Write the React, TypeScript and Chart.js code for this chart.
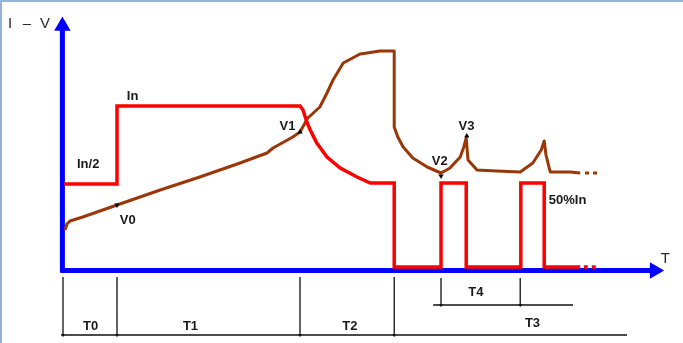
import React, { useEffect, useRef } from 'react';
import { Chart, registerables } from 'chart.js';

Chart.register(...registerables);

// Current (red) trace: time units vs current units
const CUR_T = [0.2, 9, 9, 39.5, 40, 40.7, 41.2, 42.3, 44, 46.2, 49, 51.2, 55.2, 55.2, 63, 63, 67.2, 67.2, 76.3, 76.3, 80.2, 80.2, 86.2];
const CUR_I = [34.4, 34.4, 65.6, 65.6, 64, 58.8, 56, 50.8, 45.2, 40.8, 37.2, 34.8, 34.8, 1.2, 1.2, 34.8, 34.8, 1.2, 1.2, 34.8, 34.8, 1.2, 1.2];
const CUR_TAIL_T = [86.8, 89.4];
const CUR_TAIL_I = [1.2, 1.2];

// Voltage (brown) trace
const VOLT_T = [0.33, 0.67, 1.17, 3.3, 9, 16.2, 22.8, 29.5, 34, 35, 38.3, 39.5, 40.8, 42.8, 44, 45, 46.7, 49.5, 50.7, 52.8, 55.2, 55.2, 55.8, 56.7, 58.3, 60.7, 63, 64.5, 66.2, 66.8, 67.2, 67.5, 69, 72.3, 76.2, 78.3, 79.7, 80.2, 80.5, 81.2, 84.5, 86.2];
const VOLT_V = [16, 18.4, 19.6, 21.2, 26, 32, 37.2, 42.8, 46.8, 48.8, 53.2, 55.2, 60.8, 65.2, 70.8, 76, 82.8, 86.4, 86.8, 87.6, 87.6, 57.2, 53.2, 49.2, 44.8, 41.2, 38.8, 40.8, 45.2, 49.2, 52.8, 44, 40, 39.6, 39.2, 42.8, 48, 51.6, 46, 39.2, 39.2, 38.8];
const VOLT_TAIL_T = [87, 89.4];
const VOLT_TAIL_V = [38.8, 38.8];

// Marked voltage points V0..V3
const MARK_T = [9, 39.5, 63, 67.3];
const MARK_V = [26, 55.2, 37.6, 53.6];
const MARK_ROT = [60, 0, 180, 0];

// Phase boundaries (timeline under the axis)
const PHASE_T = [0, 9, 39.5, 55.2];
const PHASE_END_T = 94;
const PULSE_T = [63, 76.2];
const PULSE_LINE_T = [61.7, 85];

// Text labels
const LABEL_TEXT = ['In', 'In/2', 'V0', 'V1', 'V2', 'V3', '50%In', 'T0', 'T1', 'T2', 'T3', 'T4'];
const LABEL_T = [11.6, 4.2, 10.8, 37.4, 62.8, 67.25, 84.1, 4.6, 21.25, 47.8, 78.25, 68.8];
const LABEL_Y = [69.6, 42.4, 20, 57.6, 43.6, 57.6, 28, -22.4, -22.4, -22.4, -21.4, -8.8];

// Axis titles
const AXIS_TITLE_PARTS = ['I', '\u2013', 'V'];
const AXIS_TITLE_T = [-8.8, -6.0, -3.0];
const AXIS_TITLE_Y = 98.4;
const TIME_TITLE = 'T';
const TIME_TITLE_T = [100.4];
const TIME_TITLE_Y = 4.4;

const X_MIN = -10.5;
const X_MAX = 103.33;
const Y_MIN = -29.2;
const Y_MAX = 108;

const pts = (xs: number[], ys: (number | null)[]) => xs.map((x, i) => ({ x, y: ys[i] }));

const BLUE = '#0000ff';
const RED = '#ff0000';
const BROWN = '#9a3608';
const BLACK = '#111111';

export default function App() {
  const ref = useRef<HTMLCanvasElement | null>(null);

  useEffect(() => {
    if (!ref.current) return;

    const tickPts: { x: number; y: number | null }[] = [];
    PHASE_T.forEach((t) => {
      tickPts.push({ x: t, y: -2.8 }, { x: t, y: -26.2 }, { x: t, y: null });
    });
    tickPts.push({ x: PHASE_T[0] - 0.3, y: -26 }, { x: PHASE_END_T, y: -26 }, { x: PHASE_END_T, y: null });
    PULSE_T.forEach((t) => {
      tickPts.push({ x: t, y: -3.2 }, { x: t, y: -14 }, { x: t, y: null });
    });
    tickPts.push({ x: PULSE_LINE_T[0], y: -14 }, { x: PULSE_LINE_T[1], y: -14 });

    const arrowPts = [
      ...PHASE_T.map((t) => ({ x: t, y: -26 })),
      ...PULSE_T.map((t) => ({ x: t, y: -14 })),
    ];

    const textPlugin = {
      id: 'texts',
      afterDraw(chart: any) {
        const { ctx, scales } = chart;
        ctx.save();
        ctx.fillStyle = '#95b3d7';
        ctx.fillRect(0, 0, chart.width, 2);
        ctx.fillRect(0, 0, 2, chart.height);
        ctx.fillStyle = '#1a1a1a';
        ctx.textAlign = 'center';
        ctx.textBaseline = 'middle';
        ctx.font = 'bold 13px "Liberation Sans", Arial, sans-serif';
        LABEL_TEXT.forEach((s, i) => {
          const px = scales.x.getPixelForValue(LABEL_T[i]);
          const py = scales.y.getPixelForValue(LABEL_Y[i]);
          ctx.fillText(s, px, py);
        });
        ctx.font = '15px "Liberation Sans", Arial, sans-serif';
        ctx.fillStyle = '#2a2a2a';
        AXIS_TITLE_PARTS.forEach((s, i) => {
          ctx.fillText(s, scales.x.getPixelForValue(AXIS_TITLE_T[i]), scales.y.getPixelForValue(AXIS_TITLE_Y));
        });
        ctx.fillText(TIME_TITLE, scales.x.getPixelForValue(TIME_TITLE_T[0]), scales.y.getPixelForValue(TIME_TITLE_Y));
        ctx.restore();
      },
    };

    const chart = new Chart(ref.current, {
      type: 'line',
      data: {
        datasets: [
          {
            label: 'current',
            data: pts(CUR_T, CUR_I),
            borderColor: RED,
            borderWidth: 3.5,
            pointRadius: 0,
            tension: 0,
            borderJoinStyle: 'miter',
            order: 1,
          },
          {
            label: 'current tail',
            data: pts(CUR_TAIL_T, CUR_TAIL_I),
            borderColor: RED,
            borderWidth: 3.5,
            borderDash: [4, 4],
            pointRadius: 0,
            order: 1,
          },
          {
            label: 'marks',
            data: pts(MARK_T, MARK_V),
            showLine: false,
            pointStyle: 'triangle',
            pointRadius: 3,
            pointRotation: MARK_ROT,
            pointBackgroundColor: '#000',
            pointBorderColor: '#000',
            pointBorderWidth: 0,
            order: 0,
          },
          {
            label: 'voltage',
            data: pts(VOLT_T, VOLT_V),
            borderColor: BROWN,
            borderWidth: 3,
            pointRadius: 0,
            tension: 0,
            borderJoinStyle: 'round',
            order: 2,
          },
          {
            label: 'voltage tail',
            data: pts(VOLT_TAIL_T, VOLT_TAIL_V),
            borderColor: BROWN,
            borderWidth: 3,
            borderDash: [4, 4],
            pointRadius: 0,
            order: 2,
          },
          {
            label: 'x axis',
            data: pts([-0.4, 98.6], [-0.2, -0.2]),
            borderColor: BLUE,
            borderWidth: 5,
            pointStyle: 'triangle',
            pointRadius: [0, 4.5],
            pointRotation: [0, 90],
            pointBackgroundColor: BLUE,
            pointBorderColor: BLUE,
            order: 3,
          },
          {
            label: 'y axis',
            data: pts([-0.1, -0.1], [-1, 97.6]),
            borderColor: BLUE,
            borderWidth: 5,
            pointStyle: 'triangle',
            pointRadius: [0, 4.5],
            pointRotation: [0, 0],
            pointBackgroundColor: BLUE,
            pointBorderColor: BLUE,
            order: 3,
          },
          {
            label: 'timeline',
            data: tickPts,
            borderColor: BLACK,
            borderWidth: 1.3,
            pointRadius: 0,
            spanGaps: false,
            order: 4,
          },
          {
            label: 'timeline arrows',
            data: arrowPts,
            showLine: false,
            pointStyle: 'triangle',
            pointRadius: 2.2,
            pointRotation: 180,
            pointBackgroundColor: BLACK,
            pointBorderColor: BLACK,
            pointBorderWidth: 0,
            order: 4,
          },
        ],
      },
      options: {
        animation: false,
        responsive: false,
        maintainAspectRatio: false,
        layout: { padding: 0, autoPadding: false },
        plugins: { legend: { display: false }, tooltip: { enabled: false } },
        scales: {
          x: { type: 'linear', min: X_MIN, max: X_MAX, display: false },
          y: { type: 'linear', min: Y_MIN, max: Y_MAX, display: false },
        },
      },
      plugins: [textPlugin],
    } as any);

    return () => chart.destroy();
  }, []);

  return (
    <canvas
      ref={ref}
      width={683}
      height={343}
      style={{ position: 'fixed', left: 0, top: 0, width: 683, height: 343, background: '#ffffff' }}
    />
  );
}
